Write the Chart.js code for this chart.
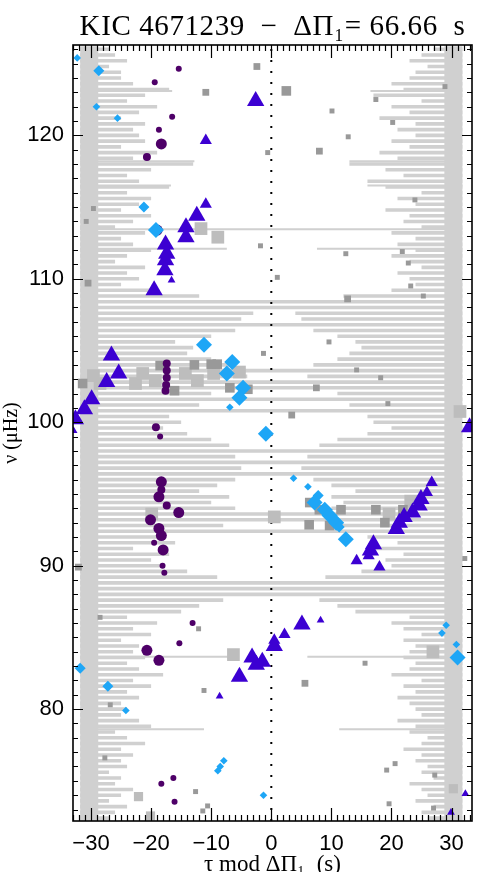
<!DOCTYPE html>
<html>
<head>
<meta charset="utf-8">
<script src="https://cdn.jsdelivr.net/npm/chart.js@4.4.1/dist/chart.umd.min.js"></script>
<style>
  html, body { margin: 0; padding: 0; background: #fff; overflow: hidden; }
</style>
</head>
<body>
<canvas id="echelle" width="482" height="890"></canvas>
<script>
// axis ranges
const TAU_MIN = -33.0, TAU_MAX = 33.4;
const NU_MIN = 72.2, NU_MAX = 126.3;
const GRAY_EDGE = 31.8;   // half width of the stretched spectrum
const GRAY_CORE = 28.8;

const TITLE = 'KIC 4671239  \u2212  \u0394\u03a0\u2081= 66.66  s';

// stretched spectrum lines: frequency, reach from the left edge, reach from the right edge (tau, s)
const grayNu = [
  72.4, 72.8, 73.2, 73.6, 74.0, 74.4, 74.8, 75.2, 75.6, 76.0,
  76.4, 76.8, 77.2, 77.6, 78.0, 78.4, 78.8, 79.2, 79.6, 80.0,
  80.4, 80.8, 81.2, 81.6, 82.0, 82.4, 82.8, 83.2, 83.6, 84.0,
  84.4, 84.8, 85.2, 85.6, 86.0, 86.4, 86.8, 87.2, 87.6, 88.0,
  88.4, 88.8, 89.2, 89.6, 90.0, 90.4, 90.8, 91.2, 91.6, 92.0,
  92.4, 92.8, 93.2, 93.6, 94.0, 94.4, 94.8, 95.2, 95.6, 96.0,
  96.4, 96.8, 97.2, 97.6, 98.0, 98.4, 98.8, 99.2, 99.6, 100.0,
  100.4, 100.8, 101.2, 101.6, 102.0, 102.4, 102.8, 103.2, 103.6, 104.0,
  104.4, 104.8, 105.2, 105.6, 106.0, 106.4, 106.8, 107.2, 107.6, 108.0,
  108.4, 108.8, 109.2, 109.6, 110.0, 110.4, 110.8, 111.2, 111.6, 112.0,
  112.4, 112.8, 113.2, 113.6, 114.0, 114.4, 114.8, 115.2, 115.6, 116.0,
  116.4, 116.8, 117.2, 117.6, 118.0, 118.4, 118.8, 119.2, 119.6, 120.0,
  120.4, 120.8, 121.2, 121.6, 122.0, 122.4, 122.8, 123.2, 123.6, 124.0,
  124.4, 124.8, 125.2, 125.6, 126.0
];
const grayLeft = [
  -27, -26, -24, -27, -25, -23, -26, -25, -27, -24,
  -25, -23, -25, -21, -24, -26, -20, -22, -25, -24,
  -25, -22, -24, -20, -23, -18, -22, -24, -21, -23,
  -22, -25, -20, -23, -19, -24, -15, -12, -8, 32,
  32, 32, -9, -14, -18, -20, -17, -23, -16, -19,
  32, -8, 32, 32, -6, -10, -7, -12, -9, -6,
  32, -5, 32, -6, 32, -7, -10, -14, -18, -15,
  -17, 32, -12, 32, -10, 32, 32, -4, 32, -6,
  -10, -14, -13, -16, -10, -6, 32, -5, -3, 32,
  32, -12, -20, -25, -22, -24, -21, -26, -24, -20,
  -23, -25, -21, -26, -23, -20, -25, -22, -20, -24,
  -17, -22, -24, -20, -13, -23, -19, -25, -21, -22,
  -23, -21, -25, -22, -19, -24, -21, -17, -23, -25,
  -25, -27, -24, -26, -27
];
const grayRight = [
  26, 25, 27, 24, 26, 25, 23, 27, 25, 26,
  24, 25, 22, 25, 26, 23, 24, 21, 25, 24,
  23, 21, 24, 22, 25, 20, 23, 24, 22, 23,
  24, 22, 25, 22, 20, 23, 14, 11, 8, 32,
  32, 32, 9, 15, 20, 19, 22, 17, 21, 16,
  32, 9, 32, 32, 10, 12, 10, 14, 10, 7,
  32, 5, 32, 6, 32, 8, 11, 16, 20, 17,
  16, 32, 13, 32, 11, 32, 32, 6, 32, 7,
  11, 13, 15, 14, 11, 7, 32, 5, 4, 32,
  32, 12, 20, 24, 23, 21, 25, 23, 20, 24,
  21, 24, 20, 25, 22, 23, 19, 24, 21, 25,
  19, 16, 22, 19, 13, 21, 18, 23, 20, 24,
  21, 24, 18, 23, 20, 25, 17, 22, 20, 23,
  24, 26, 23, 25, 27
];
// a few long single lines
const longNu = [78.6, 83.65, 112.1, 113.45, 116.5, 118.2, 123.1];
const longLeft = [-11.2, -6.3, -7.4, 32, -16.7, -12.8, -16.5];
const longRight = [11.3, 6.0, 7.6, 32, 16.0, 13.0, 16.5];

// triangles
const triTau = [-2.6, -10.9, -10.9, -12.4, -14.2, -14.2, -17.6, -17.4, -17.6, -17.7, -16.6, -19.5,
  -26.6, -25.4, -27.4, -29.9, -31.1, -32.6, -32.9, 33.0,
  26.7, 25.9, 24.9, 24.6, 23.5, 22.1, 21.3, 20.8, 17.0, 16.5, 16.2, 14.2, 18.0,
  5.1, 8.2, 2.2, 0.5, 0.5, -3.2, -2.5, -1.5, -5.3, -8.6, 32.3, 29.9];
const triNu = [122.4, 119.65, 115.2, 114.4, 113.6, 112.9, 112.4, 111.75, 111.3, 110.6, 109.9, 109.2,
  104.65, 103.4, 102.8, 101.6, 100.9, 100.2, 99.4, 99.65,
  95.8, 95.1, 94.65, 94.2, 93.7, 93.4, 93.0, 92.55, 91.5, 91.05, 90.7, 90.35, 89.9,
  85.9, 86.2, 85.2, 84.4, 84.8, 83.6, 83.1, 83.3, 82.25, 80.9, 74.1, 72.8];
const triAmp = [3, 2, 2, 3, 3, 3, 3, 3, 3, 3, 1, 3,
  3, 3, 3, 3, 3, 3, 1, 3,
  2, 2, 3, 3, 3, 3, 3, 3, 3, 3, 2, 2, 2,
  3, 1, 2, 3, 2, 3, 3, 3, 3, 1, 1, 1];

// circles
const cirTau = [-15.4, -19.4, -16.5, -18.7, -18.3, -20.7, -19.0,
  -17.4, -17.4, -17.4, -17.5, -17.6, -19.2, -18.5,
  -18.3, -18.3, -18.7, -17.4, -15.4, -20.1, -18.7, -18.3, -19.5, -18.0, -18.1, -17.8,
  -13.1, -15.3, -20.7, -18.7, -16.3, -18.3, -16.1];
const cirNu = [124.65, 123.7, 121.3, 120.4, 119.4, 118.5, 113.4,
  104.1, 103.6, 103.1, 102.6, 102.2, 99.65, 99.0,
  95.85, 95.3, 94.8, 94.2, 93.7, 93.2, 92.6, 92.1, 91.6, 91.1, 90.0, 89.5,
  86.0, 84.6, 84.1, 83.4, 75.2, 74.8, 73.55];
const cirAmp = [1, 1, 1, 1, 3, 2, 3,
  2, 2, 2, 2, 2, 2, 1,
  3, 2, 3, 2, 3, 3, 3, 3, 1, 3, 1, 1,
  1, 1, 3, 3, 1, 1, 1];

// diamonds
const diaTau = [-32.3, -28.7, -29.1, -25.6, -21.2, -19.2,
  -11.2, -6.5, -7.4, -4.7, -5.3, -6.9, -0.9,
  3.7, 6.1, 7.8, 7.2, 8.9, 9.7, 10.8, 11.3, 12.4,
  29.1, 28.4, 30.8, 31.0, -31.8, -27.2, -24.2, -7.9, -8.5, -8.9, -1.3];
const diaNu = [125.4, 124.5, 122.0, 121.2, 115.0, 113.4,
  105.4, 104.2, 103.4, 102.4, 101.7, 101.05, 99.2,
  96.1, 95.5, 94.9, 94.4, 93.9, 93.5, 93.0, 92.7, 91.85,
  85.85, 85.3, 84.5, 83.6, 82.85, 81.6, 79.9, 76.4, 76.0, 75.7, 74.0];
const diaAmp = [1, 2, 1, 1, 2, 3,
  3, 3, 3, 3, 3, 1, 3,
  1, 1, 2, 3, 3, 3, 3, 2, 3,
  1, 1, 1, 3, 2, 2, 1, 1, 1, 1, 1];

// dark grey squares
const sqTau = [-10.9, -2.4, -29.6, -30.8, -1.8, -30.5, 2.5, 17.4, 10.1, 20.2, 12.8, 28.9, 8.0, -0.6,
  23.9, 12.4, 21.8, 22.8, 1.0, 23.2, 25.3, 12.7, 9.6, -1.3, 14.2, 18.2, 7.5, 19.4, 3.4,
  -31.4, -18.5, -16.1, -12.8, -10.0, -9.0, -6.9, -3.9,
  6.4, 6.3, 8.0, 11.6, 9.7, 17.4, 18.9, 21.9,
  -32.1, -28.5, -12.1, 32.2, 15.6, 5.6, -11.2, -26.8, -27.7, 19.2, 20.6, 27.2, -12.6, 19.6, 27.0, -10.6, -11.4];
const sqNu = [123.0, 124.8, 114.9, 114.0, 112.3, 109.7, 123.1, 122.5, 121.7, 120.9, 119.9, 123.4, 118.9, 118.8,
  115.5, 111.75, 111.9, 111.1, 110.1, 109.5, 108.8, 108.6, 105.6, 104.8, 103.65, 103.1, 102.4, 101.3, 100.5,
  102.7, 103.95, 102.2, 104.0, 104.05, 104.05, 102.4, 102.3,
  94.4, 92.85, 93.9, 93.9, 92.8, 93.9, 93.0, 93.9,
  89.9, 86.4, 85.6, 90.5, 83.2, 81.8, 81.3, 80.3, 76.6, 75.75, 76.2, 75.4, 74.25, 73.4, 73.1, 73.25, 72.9];
const sqAmp = [2, 2, 1, 1, 1, 2, 3, 1, 1, 1, 1, 1, 2, 1,
  1, 1, 1, 1, 1, 1, 1, 2, 1, 1, 1, 1, 2, 1, 2,
  3, 3, 3, 3, 3, 3, 3, 3,
  3, 3, 3, 3, 3, 3, 3, 3,
  2, 1, 1, 1, 1, 2, 1, 1, 1, 1, 1, 1, 1, 1, 1, 1, 1];

// light grey squares
const lsqTau = [-11.7, -8.9, -29.6, -28.5, -22.6, -21.4, -19.3, -14.3, -12.3, -9.6, -5.3, 31.4,
  -19.9, 0.5, 19.6, 23.2, -6.3, 26.9, -22.1, 30.3, -20.1];
const lsqNu = [113.5, 112.9, 103.25, 102.7, 102.7, 103.4, 102.9, 103.4, 102.9, 103.4, 103.5, 100.75,
  93.6, 93.4, 93.6, 94.5, 83.8, 84.0, 73.9, 74.45, 72.55];
const lsqAmp = [3, 3, 3, 3, 3, 3, 3, 3, 3, 3, 3, 3,
  3, 3, 3, 3, 3, 3, 2, 2, 2];

const xTicks = [-30, -20, -10, 0, 10, 20, 30];
const yTicks = [80, 90, 100, 110, 120];

// ---- builders ----
function points(tau, nu) {
  return tau.map((t, i) => ({ x: t, y: nu[i] }));
}

function spectrumLines(nu, left, right) {
  const pts = [];
  nu.forEach((v, i) => {
    if (left[i] >= GRAY_EDGE) {
      pts.push({ x: -GRAY_EDGE, y: v }, { x: GRAY_EDGE, y: v }, { x: 0, y: null });
      return;
    }
    pts.push({ x: -GRAY_EDGE, y: v }, { x: left[i], y: v }, { x: 0, y: null });
    pts.push({ x: right[i], y: v }, { x: GRAY_EDGE, y: v }, { x: 0, y: null });
  });
  return pts;
}

function coreLines(nu) {
  const pts = [];
  nu.forEach(v => {
    pts.push({ x: -GRAY_EDGE, y: v }, { x: -GRAY_CORE, y: v }, { x: 0, y: null });
    pts.push({ x: GRAY_CORE, y: v }, { x: GRAY_EDGE, y: v }, { x: 0, y: null });
  });
  return pts;
}

function markerSet(tau, nu, amp, sizes, style, color, order) {
  return {
    data: points(tau, nu),
    pointStyle: style,
    pointRadius: amp.map(a => sizes[a]),
    pointBackgroundColor: color,
    pointBorderColor: color,
    pointBorderWidth: 0,
    showLine: false,
    order: order
  };
}

function lineSet(data, width, order) {
  return { data: data, showLine: true, borderColor: '#d0d0d0', borderWidth: width, pointRadius: 0, order: order };
}

function minusLabel(v) {
  return v < 0 ? '\u2212' + Math.abs(v) : String(v);
}

// inward ticks on all four sides, the frame and the title
const frameTicks = {
  id: 'frameTicks',
  afterDatasetsDraw(chart) {
    const { ctx, chartArea: a, scales: { x, y } } = chart;
    ctx.save();
    ctx.strokeStyle = '#000';
    ctx.lineWidth = 1.2;
    ctx.beginPath();
    for (let v = Math.ceil(TAU_MIN); v <= TAU_MAX; v++) {
      const px = Math.round(x.getPixelForValue(v)) + 0.5;
      const len = xTicks.includes(v) ? 13 : 6;
      ctx.moveTo(px, a.bottom); ctx.lineTo(px, a.bottom - len);
      ctx.moveTo(px, a.top); ctx.lineTo(px, a.top + len);
    }
    for (let v = Math.ceil(NU_MIN); v <= NU_MAX; v++) {
      const py = Math.round(y.getPixelForValue(v)) + 0.5;
      const len = yTicks.includes(v) ? 10 : 5;
      ctx.moveTo(a.left, py); ctx.lineTo(a.left + len, py);
      ctx.moveTo(a.right, py); ctx.lineTo(a.right - len, py);
    }
    ctx.stroke();
    ctx.lineWidth = 1.6;
    ctx.strokeRect(a.left, a.top, a.right - a.left, a.bottom - a.top);

    ctx.fillStyle = '#000';
    ctx.font = '29px "Liberation Serif"';
    if ('letterSpacing' in ctx) ctx.letterSpacing = '0.6px';
    ctx.textAlign = 'center';
    ctx.textBaseline = 'alphabetic';
    ctx.fillText(TITLE, (a.left + a.right) / 2, 35);
    ctx.restore();
  }
};

const ctx = document.getElementById('echelle').getContext('2d');

new Chart(ctx, {
  type: 'scatter',
  data: {
    datasets: [
      markerSet(triTau, triNu, triAmp, [0, 4.5, 7, 10], 'triangle', '#3c00d2', 1),
      markerSet(diaTau, diaNu, diaAmp, [0, 3.8, 5.5, 8], 'rectRot', '#1ea6f6', 2),
      markerSet(cirTau, cirNu, cirAmp, [0, 3, 4, 5.5], 'circle', '#4e0068', 3),
      markerSet(sqTau, sqNu, sqAmp, [0, 3.5, 4.8, 6.8], 'rect', '#999999', 4),
      markerSet(lsqTau, lsqNu, lsqAmp, [0, 4.5, 6.5, 9], 'rect', '#bdbdbd', 5),
      {
        data: [{ x: 0, y: NU_MIN }, { x: 0, y: NU_MAX }],
        showLine: true,
        borderColor: '#000',
        borderWidth: 2,
        borderDash: [2, 9],
        pointRadius: 0,
        order: 6
      },
      lineSet(spectrumLines(longNu, longLeft, longRight), 2, 7),
      lineSet(spectrumLines(grayNu, grayLeft, grayRight), 3.6, 8),
      lineSet(coreLines(grayNu), 6, 9)
    ]
  },
  options: {
    responsive: false,
    animation: false,
    events: [],
    layout: { padding: { left: 0, right: 1, top: 45, bottom: 0 } },
    plugins: {
      legend: { display: false },
      tooltip: { enabled: false },
      title: { display: false }
    },
    scales: {
      x: {
        type: 'linear',
        min: TAU_MIN,
        max: TAU_MAX,
        afterFit(scale) { scale.height = 69; },
        afterBuildTicks(scale) { scale.ticks = xTicks.map(v => ({ value: v })); },
        grid: { display: false, drawTicks: false },
        border: { display: false },
        ticks: {
          color: '#000',
          padding: 10,
          maxRotation: 0,
          font: { family: 'Liberation Sans', size: 22 },
          callback: minusLabel
        },
        title: {
          display: true,
          text: '\u03c4 mod \u0394\u03a0\u2081  (s)',
          color: '#000',
          font: { family: 'Liberation Serif', size: 23 },
          padding: { top: 0, bottom: 11 }
        }
      },
      y: {
        type: 'linear',
        min: NU_MIN,
        max: NU_MAX,
        afterFit(scale) { scale.width = 73; },
        afterBuildTicks(scale) { scale.ticks = yTicks.map(v => ({ value: v })); },
        grid: { display: false, drawTicks: false },
        border: { display: false },
        ticks: {
          color: '#000',
          padding: 9,
          font: { family: 'Liberation Sans', size: 22 },
          callback: minusLabel
        },
        title: {
          display: true,
          text: '\u03bd (\u03bcHz)',
          color: '#000',
          font: { family: 'Liberation Serif', size: 20 },
          padding: { top: 0, bottom: 0 }
        }
      }
    }
  },
  plugins: [frameTicks]
});
</script>
</body>
</html>
